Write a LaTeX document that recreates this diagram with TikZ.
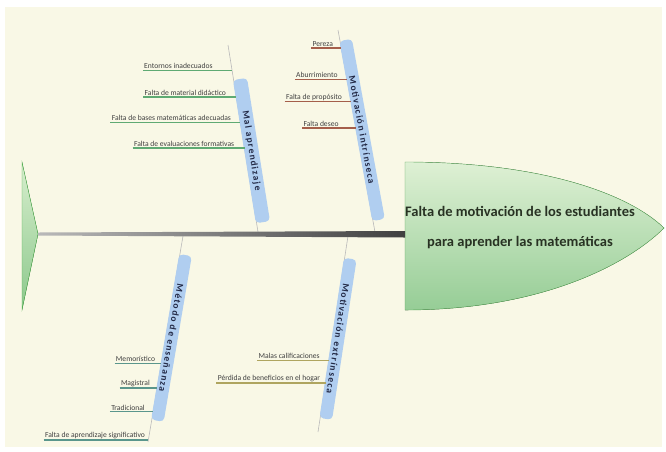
\documentclass[tikz,border=0pt]{standalone}
\usepackage{fontspec}
\setmainfont{Carlito}
\newfontfamily\bandfont[LetterSpace=14]{Carlito}
\usetikzlibrary{calc}
\definecolor{cream}{RGB}{249,248,230}
\definecolor{bandblue}{RGB}{176,206,240}
\definecolor{bandtext}{RGB}{35,42,70}
\definecolor{twiggreen}{RGB}{95,170,115}
\definecolor{twigbrown}{RGB}{165,95,75}
\definecolor{twigteal}{RGB}{90,150,140}
\definecolor{twigolive}{RGB}{175,165,95}
\begin{document}
\begin{tikzpicture}[x=1pt,y=-1pt,
  cause/.style={anchor=south east,inner sep=1.2pt,text=black!75,
    font=\fontsize{7.6}{8}\selectfont},
  band/.style={fill=bandblue,rounded corners=4pt,inner xsep=5pt,inner ysep=3pt,
    text=bandtext,font=\bandfont\bfseries\fontsize{9.5}{10}\selectfont,
    sloped,allow upside down,above=-1pt},
  bone/.style={draw=gray!55,line width=0.6pt},
  twig/.style={line width=1.1pt}]
\useasboundingbox (0,0) rectangle (666,451);
\fill[white] (0,0) rectangle (666,451);
\fill[cream] (5,7) rectangle (662,447);

% tail and head
\coordinate (tailtop) at (22,162);
\coordinate (tailtip) at (38,234);
\coordinate (tailbot) at (22,310);
\filldraw[draw=green!40!gray,top color={rgb,255:red,215;green,238;blue,205},
  bottom color={rgb,255:red,140;green,200;blue,140}]
  (tailtop) -- (tailtip) -- (tailbot) -- cycle;
\coordinate (headtop) at (405,162);
\coordinate (headtip) at (664,228);
\coordinate (headbot) at (405,310);
\filldraw[draw=gray!70!green,top color={rgb,255:red,222;green,240;blue,212},
  bottom color={rgb,255:red,150;green,205;blue,150}]
  (headtop) .. controls (545,162) and (630,195) .. (headtip)
  .. controls (630,262) and (545,310) .. (headbot) -- cycle;
\node[align=center,text={rgb,255:red,40;green,50;blue,35},
  font=\bfseries\fontsize{14.5}{30}\selectfont] (effect) at (520,228)
  {Falta de motivación de los estudiantes\\para aprender las matemáticas};

% bones
\coordinate (ma1) at (228,45);  \coordinate (ma2) at (258,232);
\coordinate (mi1) at (338,30);  \coordinate (mi2) at (375,232);
\coordinate (me1) at (183,236); \coordinate (me2) at (148,442);
\coordinate (mx1) at (348,236); \coordinate (mx2) at (318,432);
\draw[bone] (ma1) -- node[band,pos=0.57,minimum width=145pt] (lma) {Mal aprendizaje} (ma2);
\draw[bone] (mi1) -- node[band,pos=0.5,minimum width=183pt] (lmi) {Motivación intrínseca} (mi2);
\draw[bone] (me1) -- node[band,pos=0.49,minimum width=168pt] (lme) {Método de enseñanza} (me2);
\draw[bone] (mx1) -- node[band,pos=0.52,minimum width=162pt] (lmx) {Motivación extrínseca} (mx2);

% causes
\foreach \f/\g/\t [count=\i] in {0.134/18/Entornos inadecuados,
    0.278/9/Falta de material didáctico,
    0.412/8/Falta de bases matemáticas adecuadas,
    0.551/9/Falta de evaluaciones formativas}{
  \coordinate (pa\i) at ($(ma1)!\f!(ma2)$);
  \node[cause] (ca\i) at ([xshift=-\g pt]pa\i) {\t};
  \draw[twig,twiggreen] (ca\i.south west) -- (pa\i);
}
\foreach \f/\g/\t [count=\i] in {0.089/7/Pereza,
    0.243/8/Aburrimiento,
    0.356/8/Falta de propósito,
    0.485/16/Falta deseo}{
  \coordinate (pi\i) at ($(mi1)!\f!(mi2)$);
  \node[cause] (ci\i) at ([xshift=-\g pt]pi\i) {\t};
  \draw[twig,twigbrown] (ci\i.south west) -- (pi\i);
}
\foreach \f/\g/\t [count=\i] in {0.617/5/Memorístico,
    0.738/6/Magistral,
    0.854/7/Tradicional,
    0.99/2/Falta de aprendizaje significativo}{
  \coordinate (pe\i) at ($(me1)!\f!(me2)$);
  \node[cause] (ce\i) at ([xshift=-\g pt]pe\i) {\t};
  \draw[twig,twigteal] (ce\i.south west) -- (pe\i);
}
\foreach \f/\g/\t [count=\i] in {0.633/8/Malas calificaciones,
    0.75/4/Pérdida de beneficios en el hogar}{
  \coordinate (px\i) at ($(mx1)!\f!(mx2)$);
  \node[cause] (cx\i) at ([xshift=-\g pt]px\i) {\t};
  \draw[twig,twigolive] (cx\i.south west) -- (px\i);
}

% spine
\shade[left color=gray!55,right color=black!75]
  ([yshift=-1.5pt]tailtip) -- ([yshift=-3.5pt]headtop |- tailtip)
  -- ([yshift=3pt]headtop |- tailtip) -- ([yshift=1.5pt]tailtip) -- cycle;
\end{tikzpicture}
\end{document}
